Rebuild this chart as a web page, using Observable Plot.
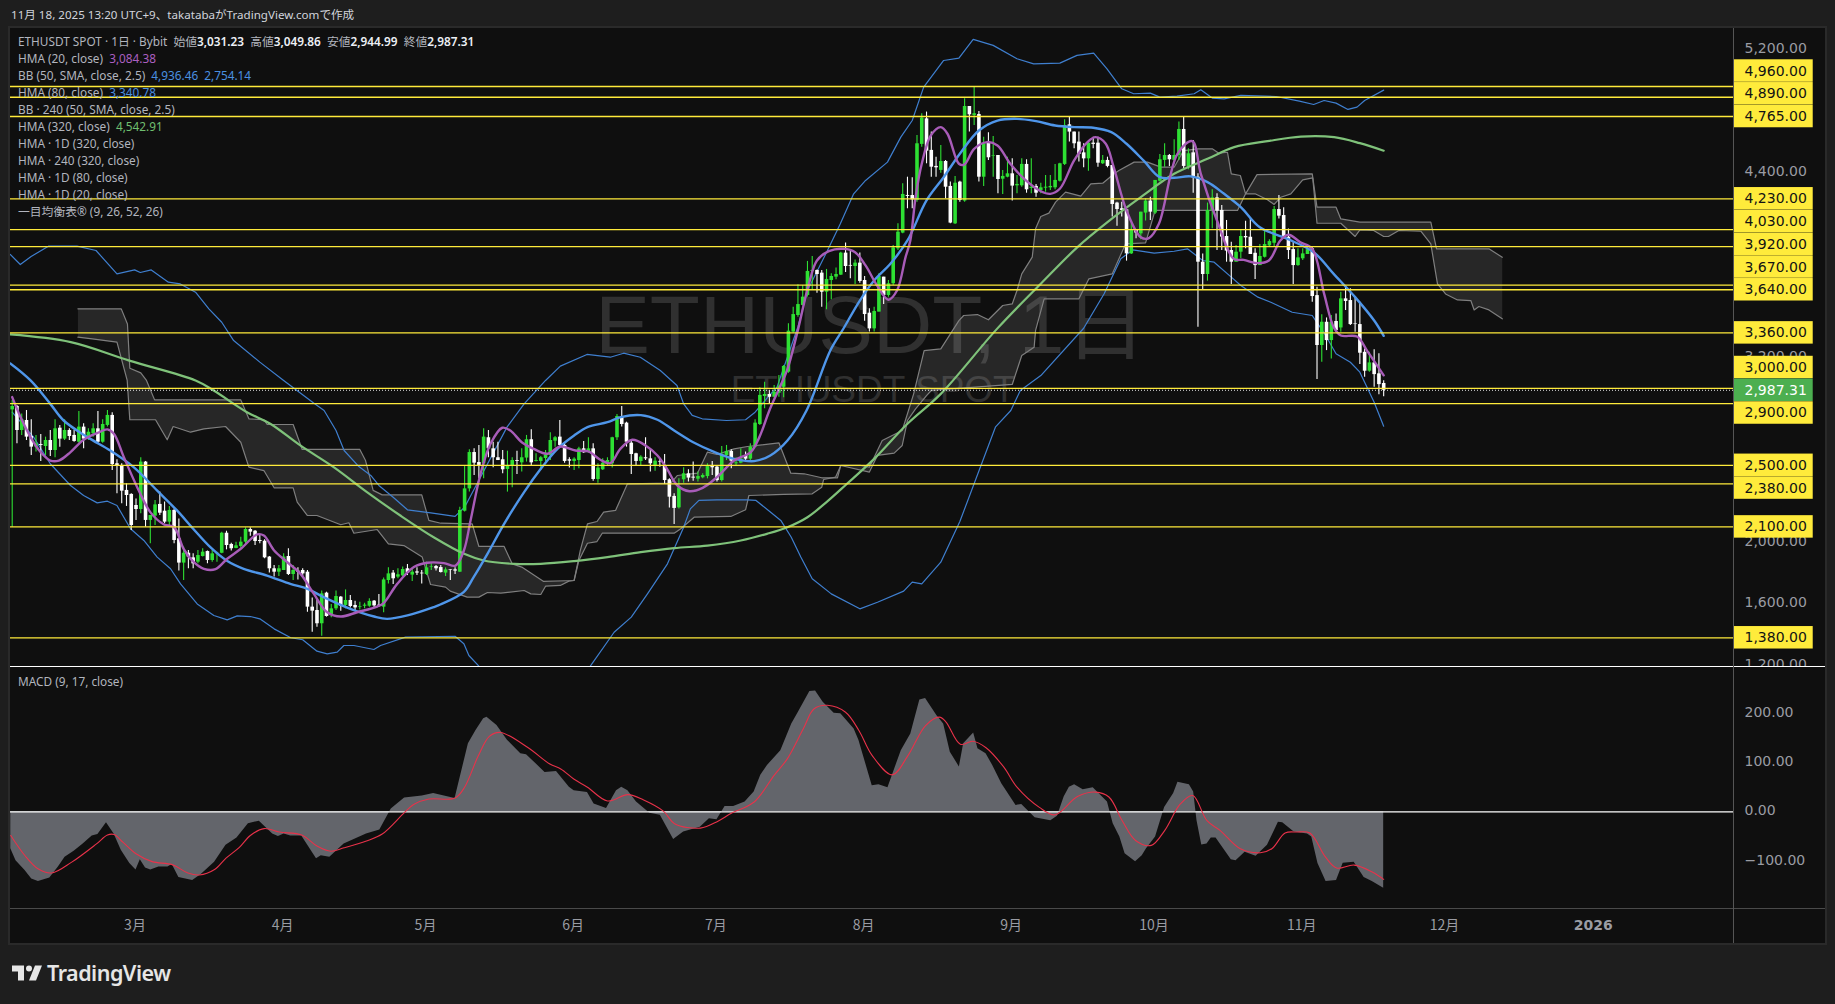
<!DOCTYPE html>
<html lang="ja">
<head>
<meta charset="utf-8">
<script src="https://cdn.jsdelivr.net/npm/d3@7"></script>
<script src="https://cdn.jsdelivr.net/npm/@observablehq/plot@0.6"></script>
<style>
html,body{margin:0;padding:0;background:#1e1e1e;}
#root{position:relative;width:1835px;height:1004px;overflow:hidden;background:#1e1e1e;font-family:"Noto Sans","Noto Sans CJK JP",sans-serif;}
.abs{position:absolute;}
#legend{position:absolute;left:18px;top:33px;font:11.8px/17px "Noto Sans","Noto Sans CJK JP",sans-serif;color:#b2b5be;white-space:pre;}
#legend b{color:#eceff5;font-weight:600;}
#legend div{height:17px;}
</style>
</head>
<body>
<div id="root"></div>
<script>
// ---------- data ----------
const firstDay = Date.UTC(2025, 1, 3);
// daily candles, one row per day from 3 Feb 2025: open, high, low, close
const candles = [
[2860,2921,2098,2882],[2882,2889,2640,2726],[2726,2834,2694,2796],[2791,2856,2661,2683],[2687,2796,2564,2618],
[2618,2694,2586,2640],[2635,2700,2525,2629],[2622,2683,2564,2661],[2661,2726,2557,2596],[2596,2796,2549,2737],
[2741,2759,2618,2670],[2670,2796,2661,2726],[2726,2737,2661,2687],[2694,2726,2650,2655],[2650,2850,2644,2748],
[2748,2770,2607,2670],[2683,2737,2661,2715],[2705,2770,2683,2737],[2737,2850,2640,2650],[2650,2796,2644,2765],
[2759,2856,2748,2824],[2824,2841,2466,2505],[2510,2536,2315,2499],[2499,2510,2250,2332],[2337,2380,2233,2304],
[2311,2315,2077,2109],[2239,2282,2142,2213],[2213,2549,2185,2521],[2521,2525,2098,2142],[2142,2174,1990,2174],
[2170,2272,2109,2243],[2246,2326,2174,2189],[2202,2261,2120,2131],[2131,2233,2109,2207],[2207,2217,1990,2012],
[2023,2152,1813,1865],[1865,1968,1752,1929],[1929,1947,1828,1904],[1899,1925,1828,1860],[1871,1947,1860,1914],
[1908,1958,1904,1936],[1940,1943,1860,1882],[1882,1947,1871,1925],[1925,1936,1871,1929],[1929,2066,1925,2059],
[2059,2072,1951,1979],[1986,1994,1943,1958],[1960,2001,1958,1977],[1973,2033,1962,2001],[2001,2094,1990,2083],
[2083,2094,2040,2066],[2072,2077,1979,2005],[2012,2044,1990,2005],[2007,2016,1893,1899],[1904,1908,1800,1828],
[1828,1849,1774,1806],[1806,1849,1778,1828],[1817,1925,1817,1904],[1908,1958,1784,1791],[1791,1849,1752,1817],
[1813,1834,1756,1806],[1817,1828,1774,1795],[1806,1817,1546,1579],[1579,1639,1416,1553],[1557,1626,1449,1471],
[1471,1683,1390,1665],[1670,1676,1514,1518],[1531,1596,1510,1568],[1568,1683,1557,1648],[1644,1648,1553,1585],
[1590,1691,1568,1622],[1622,1655,1574,1583],[1590,1618,1553,1574],[1579,1611,1561,1583],[1585,1605,1568,1592],
[1585,1633,1579,1616],[1618,1622,1574,1587],[1592,1661,1579,1585],[1579,1769,1542,1756],[1752,1834,1730,1795],
[1800,1817,1726,1763],[1774,1828,1763,1789],[1782,1839,1778,1823],[1828,1856,1784,1800],[1787,1828,1745,1806],
[1808,1834,1784,1800],[1800,1817,1730,1795],[1791,1871,1784,1834],[1839,1860,1817,1843],[1843,1849,1813,1828],
[1836,1849,1800,1804],[1800,1834,1778,1821],[1821,1821,1752,1817],[1821,1834,1791,1813],[1806,2228,1804,2207],
[2202,2492,2196,2347],[2347,2601,2326,2583],[2583,2607,2434,2514],[2518,2629,2412,2499],[2510,2737,2412,2683],
[2679,2726,2549,2607],[2607,2650,2484,2549],[2549,2650,2531,2531],[2536,2596,2445,2471],[2473,2592,2326,2495],
[2495,2549,2354,2531],[2531,2592,2440,2525],[2516,2607,2456,2549],[2547,2694,2521,2666],[2666,2731,2499,2516],
[2525,2575,2521,2531],[2525,2557,2466,2549],[2544,2596,2521,2568],[2564,2711,2531,2661],[2657,2687,2618,2679],
[2683,2791,2618,2629],[2629,2644,2514,2525],[2536,2549,2482,2527],[2525,2549,2466,2540],[2531,2618,2477,2607],
[2607,2655,2579,2581],[2586,2679,2579,2607],[2607,2640,2397,2408],[2408,2510,2384,2482],[2471,2542,2466,2514],
[2514,2549,2499,2531],[2510,2683,2482,2679],[2679,2830,2661,2817],[2817,2882,2748,2765],[2774,2780,2618,2650],
[2644,2661,2440,2570],[2575,2579,2499,2525],[2525,2562,2499,2553],[2549,2679,2531,2542],[2542,2601,2456,2510],
[2499,2549,2462,2527],[2525,2542,2488,2521],[2499,2570,2376,2401],[2406,2412,2222,2293],[2298,2315,2116,2220],
[2224,2412,2217,2354],[2406,2484,2384,2445],[2445,2471,2391,2417],[2423,2521,2397,2417],[2410,2456,2391,2427],
[2419,2445,2412,2434],[2427,2510,2412,2492],[2492,2525,2434,2484],[2488,2499,2391,2401],[2401,2622,2391,2570],
[2564,2629,2531,2590],[2590,2601,2477,2527],[2510,2549,2499,2516],[2514,2607,2510,2542],[2564,2586,2521,2540],
[2540,2640,2531,2618],[2618,2796,2618,2774],[2765,3003,2759,2954],[2947,3040,2867,2960],[2960,2986,2899,2942],
[2942,3018,2938,2975],[2968,3083,2942,3014],[3007,3148,2938,3142],[3105,3419,3098,3371],[3365,3527,3358,3479],
[3473,3672,3462,3544],[3538,3668,3534,3592],[3603,3824,3592,3759],[3759,3856,3635,3765],[3765,3769,3618,3739],
[3748,3765,3527,3624],[3624,3772,3510,3707],[3700,3744,3575,3726],[3722,3782,3705,3739],[3735,3884,3733,3878],
[3878,3943,3752,3791],[3798,3891,3711,3793],[3791,3834,3674,3813],[3813,3878,3683,3694],[3700,3726,3436,3479],
[3488,3516,3365,3386],[3386,3527,3365,3499],[3495,3744,3495,3726],[3722,3722,3544,3603],[3603,3700,3592,3679],
[3679,3928,3668,3912],[3906,4068,3895,4014],[4008,4328,4003,4259],[4252,4371,4166,4246],[4252,4367,4166,4224],
[4220,4642,4209,4588],[4584,4783,4566,4755],[4750,4794,4458,4540],[4545,4664,4371,4436],[4441,4501,4371,4432],
[4415,4577,4397,4473],[4473,4480,4231,4306],[4311,4339,4068,4073],[4068,4376,4064,4332],[4339,4345,4209,4220],
[4216,4880,4209,4830],[4830,4830,4664,4776],[4772,4956,4707,4783],[4778,4798,4339,4371],[4371,4631,4311,4588],
[4592,4659,4480,4497],[4508,4636,4371,4512],[4512,4512,4263,4356],[4358,4415,4259,4376],[4371,4501,4367,4393],
[4393,4490,4216,4313],[4315,4382,4263,4324],[4315,4490,4306,4454],[4454,4484,4267,4289],[4298,4490,4263,4306],
[4311,4324,4241,4267],[4285,4332,4263,4302],[4300,4382,4274,4306],[4302,4382,4285,4311],[4302,4454,4289,4350],
[4345,4462,4339,4458],[4454,4744,4447,4707],[4711,4761,4599,4664],[4664,4664,4555,4588],[4599,4664,4469,4519],
[4529,4588,4432,4490],[4490,4599,4410,4592],[4592,4631,4555,4584],[4592,4631,4436,4462],[4458,4512,4454,4480],
[4480,4501,4432,4441],[4447,4447,4112,4194],[4203,4209,4053,4161],[4166,4209,4112,4155],[4159,4159,3826,3873],
[3873,4068,3869,4025],[4025,4025,3971,4008],[4003,4144,3964,4144],[4138,4231,4086,4216],[4216,4241,4090,4144],
[4138,4350,4129,4350],[4345,4519,4339,4484],[4480,4588,4436,4512],[4512,4519,4441,4484],[4480,4614,4458,4512],
[4512,4729,4480,4681],[4681,4761,4426,4441],[4436,4555,4419,4523],[4529,4610,4267,4367],[4371,4393,3397,3819],
[3819,3873,3640,3739],[3739,4203,3696,4155],[4155,4289,4036,4237],[4237,4263,3895,4151],[4155,4187,3895,3982],
[3986,4090,3819,3891],[3895,3949,3674,3819],[3819,3927,3819,3884],[3884,4025,3841,3986],[3986,4085,3906,3977],
[3981,4107,3869,3869],[3877,3906,3706,3797],[3797,3934,3797,3856],[3851,4025,3847,3934],[3925,3964,3921,3953],
[3942,4181,3921,4161],[4161,4252,4100,4118],[4122,4172,3977,3981],[3981,4035,3836,3895],[3901,3949,3674,3797],
[3797,3906,3793,3847],[3841,3906,3830,3873],[3869,3916,3869,3901],[3906,3916,3559,3596],[3602,3657,3057,3278],
[3278,3477,3169,3429],[3429,3457,3245,3310],[3310,3473,3191,3429],[3434,3483,3364,3375],[3392,3624,3364,3581],
[3581,3663,3505,3564],[3570,3646,3408,3414],[3418,3592,3364,3414],[3414,3559,3154,3228],[3234,3256,3072,3111],
[3111,3234,3105,3165],[3165,3250,3007,3089],[3094,3224,2959,3024],[3031.23,3049.86,2944.99,2987.31]
];
// indicator samples: [days since 3 Feb, value]
const hma20 = [[0,2943],[1.75,2813],[3.85,2683],[5.95,2586],[8,2531],[9.8,2531],[12.25,2586],[15,2666],[17.85,2709],[20,2733],[21.35,2705],[23.45,2553],[26.25,2358],[29,2196],[31.85,2116],[34,2098],[36,1958],[38.15,1871],[40.25,1828],[42.7,1826],[45.15,1893],[48,1958],[51.45,2051],[52.85,2044],[55,1947],[57.75,1871],[60.55,1795],[63.35,1665],[66.15,1546],[69,1518],[72.45,1546],[76.65,1583],[78,1605],[80.85,1730],[84.35,1839],[87.15,1867],[90.65,1865],[93.1,1849],[94.85,1947],[96.25,2142],[98.35,2445],[100.45,2640],[102.9,2744],[104.6,2726],[107,2650],[109.5,2607],[112.4,2575],[115.1,2622],[118.3,2596],[121,2590],[123.5,2536],[125.6,2514],[127.7,2607],[130.2,2666],[133,2629],[135.5,2564],[137.5,2477],[139.7,2369],[142.2,2332],[145,2354],[148,2423],[151.6,2531],[155.1,2586],[156.9,2683],[159,2856],[160.7,2975],[162.7,3116],[164.8,3354],[167.3,3679],[169,3830],[171.5,3891],[174.6,3906],[177,3884],[179.2,3798],[181.6,3668],[184,3575],[185.8,3635],[187.6,3852],[188.6,3960],[189.7,4241],[191,4458],[192.9,4642],[195,4696],[196.4,4653],[198.8,4458],[199.9,4452],[202,4555],[204.7,4599],[206.9,4577],[209.6,4458],[212.5,4360],[216,4280],[218,4263],[220,4296],[223,4480],[225.8,4599],[227.5,4631],[229.6,4590],[231.3,4436],[234,4155],[237,3981],[238.7,3975],[240.8,4068],[244.7,4523],[247.8,4605],[249.6,4393],[253,4090],[256.5,3841],[258.6,3834],[261.4,3813],[263.9,3830],[266.3,3960],[268,3997],[270.5,3949],[273,3906],[275.5,3613],[277.5,3397],[279,3343],[282.4,3336],[284.5,3245],[288,3084.38]];
const hma80 = [[-0.4,3161],[3.85,3051],[8,2899],[10.8,2791],[15.8,2683],[20.6,2596],[25.5,2488],[30.4,2337],[34.6,2207],[38,2088],[41.6,1968],[45,1882],[48.6,1828],[53.5,1784],[58.4,1730],[62,1698],[65.4,1644],[71,1568],[76,1518],[78.7,1503],[83,1525],[88.5,1579],[89.9,1596],[94.8,1676],[96.9,1774],[99.8,1925],[103.3,2120],[107.5,2326],[111,2477],[114.5,2607],[118,2694],[120.8,2748],[125,2780],[127.8,2813],[132,2826],[135.5,2796],[139,2726],[143,2650],[147.5,2586],[151.6,2542],[155.8,2527],[159.2,2564],[162.8,2661],[166.8,2856],[171.8,3246],[174.6,3390],[178,3570],[181,3700],[184.5,3812],[188,3960],[192,4220],[195.6,4371],[199,4523],[203,4674],[206.9,4739],[211,4750],[215,4735],[219,4707],[223,4696],[227,4692],[230.8,4664],[234,4588],[237.7,4475],[241,4371],[244,4367],[247.5,4376],[251,4339],[254.5,4263],[258,4177],[262,4046],[267.8,3970],[273.3,3884],[277.5,3743],[282,3592],[286,3440],[288,3340.78]];
const hma320 = [[-0.4,3350],[12.3,3300],[24.6,3180],[38.5,3051],[42.3,2986],[49.3,2845],[54.2,2770],[60.5,2629],[67.5,2488],[74.5,2326],[81.5,2174],[88.5,2033],[94.9,1925],[99,1882],[105.4,1860],[111,1860],[118,1878],[125,1904],[132,1936],[139,1962],[146,1979],[153,2012],[158.5,2055],[162.8,2098],[167,2163],[171,2261],[175.3,2380],[181,2542],[188,2770],[195,2964],[206.8,3386],[216,3679],[223.7,3917],[230,4079],[237,4241],[244,4393],[251,4490],[256.6,4566],[263.6,4605],[270.6,4635],[277.6,4631],[283,4592],[288,4542.91]];
const bbUpper = [[-0.4,3869],[1.7,3804],[3.97,3856],[7.6,3923],[13.6,3923],[17.6,3895],[22,3743],[25.7,3769],[26.9,3752],[29.2,3769],[32.8,3689],[35.3,3678],[38.5,3624],[41.3,3516],[44,3429],[46.5,3310],[52,3170],[57,3051],[59.8,2986],[63.3,2904],[65.5,2856],[68,2726],[69.7,2596],[72.8,2492],[75.3,2434],[77,2369],[80,2293],[83,2211],[87.9,2191],[93,2168],[95,2228],[103.9,2748],[107.5,2899],[112,3051],[115.1,3144],[120.7,3220],[125.6,3202],[128.4,3228],[131.9,3202],[136.1,3116],[139.6,3018],[141,2899],[142.8,2824],[144.9,2802],[150,2791],[154,2796],[156,2845],[159,2954],[160.6,3007],[165,3400],[167,3635],[171.2,3895],[173.9,4068],[176.7,4263],[179.2,4350],[183.8,4469],[186.6,4631],[189,4739],[191.4,4956],[195.6,5129],[198.8,5144],[201.8,5266],[206,5227],[211,5140],[214.5,5107],[220,5112],[223.6,5162],[227.1,5177],[229.9,5075],[233,4945],[235.5,4913],[239,4917],[241,4891],[244.6,4897],[248.2,4913],[249.6,4939],[252,4885],[254.5,4880],[258,4902],[265.4,4895],[270.3,4865],[273.3,4843],[275.5,4869],[278,4852],[280.5,4811],[282.4,4826],[284,4869],[288,4936.46]];
const bbLower = [[0,2845],[4.5,2683],[8,2510],[12.25,2369],[15,2304],[17.85,2256],[20,2267],[22,2239],[24.85,2088],[27.65,2012],[30.45,1904],[33.25,1828],[35.35,1730],[38.85,1600],[42.35,1525],[45.15,1496],[47.25,1522],[50,1518],[52,1503],[55,1438],[58.5,1380],[61,1367],[64,1293],[66.15,1276],[68.25,1287],[69.65,1330],[71.75,1330],[75.95,1304],[77.35,1330],[82.6,1384],[93,1390],[94.85,1341],[95.9,1265],[98,1196],[99,null],[120,null],[121.4,1196],[126.4,1416],[130,1514],[133.4,1665],[137.6,1860],[141,2098],[142.4,2217],[144.2,2272],[148,2276],[154.4,2276],[156.2,2272],[161.4,2142],[163.6,2033],[165.6,1904],[168,1763],[172,1665],[178,1568],[181.7,1611],[187.2,1683],[189,1741],[191,1730],[195,1871],[199,2135],[206.5,2750],[209.7,2856],[211.7,2986],[216,3083],[225,3390],[229.3,3614],[232.8,3841],[235.3,3899],[239.8,3878],[244,3890],[246.8,3906],[250,3830],[252.4,3819],[256,3722],[258,3668],[261.6,3592],[264.3,3559],[268.8,3494],[273,3473],[275.6,3354],[278,3224],[281,3169],[283,3105],[286,2910],[288,2754.14]];
const spanUpper = [[13.8,3516],[22.9,3516],[24.2,3418],[24.7,3130],[27,3100],[28.2,3051],[29.9,2925],[48,2925],[49.7,2802],[52.85,2796],[53.55,2765],[59,2765],[60.9,2603],[73,2603],[74.2,2531],[75.8,2337],[77.7,2308],[86,2308],[87.5,2142],[90,2124],[96.6,2120],[98,1973],[103.3,1973],[105,1860],[107,1839],[111.6,1746],[118,1752],[119.3,1947],[120.8,2120],[122.8,2135],[124.2,2196],[126.7,2207],[129.2,2380],[138.3,2384],[139.7,2434],[143.9,2449],[146,2586],[148,2570],[151.6,2607],[154.4,2622],[161,2646],[163.5,2449],[166.3,2445],[170,2419],[173.3,2419],[174,2499],[178.2,2499],[180,2488],[182.7,2661],[186.9,2726],[189.3,2964],[191.5,3245],[195,3256],[198.8,3440],[199.8,3473],[202.7,3479],[205,3445],[208,3538],[210,3548],[211,3635],[212,3743],[214.2,3852],[214.9,4036],[216,4116],[217.7,4138],[219.1,4209],[221.2,4274],[224.4,4248],[226.5,4328],[229,4332],[231.4,4393],[232.4,4415],[235.6,4469],[238.4,4469],[241.2,4436],[244,4436],[246,4544],[249,4555],[252,4555],[253.4,4527],[255.2,4533],[256,4393],[257.9,4382],[259,4263],[261.4,4388],[273,4393],[274,4176],[278,4176],[279,4100],[283,4079],[297.9,4079],[299.1,3906],[310.1,3906],[312.9,3851]];
const spanLower = [[13.8,3332],[16.8,3321],[22,3300],[24.15,3051],[24.7,2796],[30.1,2796],[32.55,2666],[33.8,2752],[37.45,2715],[40.25,2737],[44.8,2752],[48,2650],[49.7,2488],[52.85,2466],[55,2354],[59,2354],[59.85,2261],[62,2174],[64,2174],[69,2114],[70.7,2127],[71.75,2059],[76.65,2083],[79,1990],[82.25,1979],[86.1,1904],[87.85,1726],[91,1709],[92,1683],[95.55,1644],[98,1644],[99.8,1674],[102.6,1670],[107.5,1687],[108.9,1665],[111,1661],[112,1715],[115.1,1720],[116.9,1748],[118,1752],[119,1882],[120.8,1994],[122.8,2005],[123.9,2059],[139,2059],[140.4,2088],[143.2,2163],[150.9,2168],[154,2211],[154.7,2304],[162,2311],[168,2315],[170,2358],[170.4,2408],[172.9,2423],[174,2499],[180,2456],[181.7,2564],[185.2,2579],[186.9,2629],[188,2791],[189.7,2867],[192,2953],[193,2986],[210,3025],[212,3213],[214.6,3267],[214.9,3376],[216.7,3581],[224,3581],[226.1,3711],[231,3743],[233.8,3938],[238,3944],[240,4155],[257.3,4155],[259,4263],[261,4263],[263.6,4224],[265,4194],[266.4,4241],[268.5,4263],[271,4354],[273.1,4367],[274,4072],[279,4072],[282,3986],[283,4029],[285.9,4025],[288,3986],[289,3986],[291.2,4025],[295.8,4020],[297.9,3938],[299.3,3678],[301,3613],[303.5,3574],[306.3,3570],[307,3509],[308,3531],[310.1,3509],[312.9,3451]];
const macd = [[-0.3,-75],[0.8,-99],[2.7,-119],[4.1,-136],[5.5,-141],[7.9,-134],[9.7,-112],[11.1,-92],[13,-80],[14.9,-65],[16.8,-49],[18,-46],[19.8,-22],[21.4,-45],[22.9,-78],[24.7,-105],[26,-118],[26.9,-97],[28,-114],[29.1,-118],[30.8,-112],[32.7,-112],[33.6,-107],[35,-133],[37.9,-139],[39.7,-127],[42.5,-102],[44.9,-68],[47.2,-53],[49.6,-24],[51.9,-19],[54.7,-45],[55.9,-50],[57.1,-45],[58.5,-49],[60.8,-49],[63.9,-95],[64.9,-89],[66.7,-92],[69.7,-65],[74.4,-45],[77.2,-37],[79.6,6],[82.4,28],[86.1,32],[88.5,37],[93,27],[95.8,138],[97.4,165],[99,189],[99.7,192],[101.8,175],[104,145],[106.8,118],[108,116],[111.9,80],[114.3,82],[117,50],[118,43],[120.8,39],[122.2,16],[124.8,7],[126.9,43],[128,50],[129.3,43],[131.1,20],[133.9,-3],[136.1,-7],[138.9,-56],[141,-41],[144.5,-31],[146.4,-14],[148,-16],[149.7,11],[151.5,11],[153.9,20],[155.8,40],[157.2,74],[158.6,94],[161.4,124],[163.7,178],[165.1,202],[167.5,244],[168.7,245],[170.3,222],[172.6,200],[174,199],[176.8,168],[177.8,145],[180.6,53],[182,55],[183.9,49],[186.7,124],[188.7,158],[190.6,227],[191.8,230],[194.2,195],[195.6,178],[197,121],[198.9,91],[199.8,138],[201.9,160],[202.8,128],[204.5,118],[205.9,94],[207.8,57],[210.8,13],[212,15],[214.8,-12],[218.1,-18],[219.5,-9],[220.9,30],[222,50],[223.1,55],[224.9,45],[227,49],[230,20],[231.2,-24],[232.6,-51],[233.7,-85],[235.9,-101],[237.3,-89],[238.2,-75],[240.1,-51],[242,9],[243.9,37],[244.8,60],[247.2,55],[248.1,40],[248.8,-18],[249.8,-67],[250.9,-65],[251.8,-53],[252.8,-53],[256,-97],[257,-99],[258.9,-82],[261.2,-90],[263.6,-68],[265.9,-21],[266.8,-22],[269.2,-41],[272,-45],[272.9,-51],[274.2,-105],[275.9,-141],[278.1,-139],[279.5,-104],[281.8,-102],[283.9,-133],[285.6,-141],[288,-155]];
const macdSignal = [[-0.3,-48],[2.7,-89],[5.5,-116],[8.3,-124],[12.5,-102],[17.7,-65],[20,-47],[21.4,-46],[23.3,-62],[26,-85],[29.4,-101],[33.6,-107],[36.9,-124],[39.3,-128],[42.5,-117],[44.9,-94],[47.7,-72],[50,-48],[52.9,-34],[56.1,-41],[60.8,-47],[64.1,-70],[66.9,-80],[69.7,-73],[74.4,-59],[77.7,-45],[82.4,-1],[84.3,15],[87.5,26],[93,28],[95,50],[97.9,114],[100.2,153],[102.5,161],[108.2,131],[112.9,97],[115.2,87],[118,66],[120.8,50],[125,22],[129.3,35],[132.6,24],[136.8,1],[139.1,-24],[144.5,-33],[148.2,-19],[151,-3],[155.8,20],[160,74],[162.8,108],[166.1,168],[168.4,209],[171.2,216],[175,202],[177.8,165],[180.6,114],[184.8,75],[188.1,114],[191.8,175],[194.7,192],[196.1,182],[199.1,137],[201.7,143],[204.5,130],[208.2,91],[211,50],[215.7,9],[219,-6],[223.7,31],[227.5,40],[230.3,30],[233.1,-18],[235.9,-58],[239.2,-68],[242,-38],[245.3,16],[247.9,33],[250.9,-18],[253.7,-38],[257.9,-75],[262.1,-83],[264.5,-75],[267.3,-43],[269.7,-41],[272.5,-43],[275.8,-92],[278.1,-114],[281.8,-108],[285.6,-122],[288,-137]];
// horizontal levels, stacked into their tags on the price axis; each stack hangs off its anchor price
const tagStacks = [
  {levels:[4960,4890,4765], anchor:4765},
  {levels:[4230,4030,3920,3670,3640], anchor:3640},
  {levels:[3360], anchor:3360},
  {levels:[3000,2987.31,2900], anchor:2987.31},
  {levels:[2500,2380], anchor:2500},
  {levels:[2100], anchor:2100},
  {levels:[1380], anchor:1380}
];
const lastPrice = 2987.31;
const priceTicks = [5200,4400,3200,2000,1600,1200];
const macdTicks = [200,100,0,-100];
const monthLabels = ["3月","4月","5月","6月","7月","8月","9月","10月","11月","12月"];
const monthStarts = [[2025,2],[2025,3],[2025,4],[2025,5],[2025,6],[2025,7],[2025,8],[2025,9],[2025,10],[2025,11]];
const legendLines = [
  [["ETHUSDT SPOT · 1日 · Bybit  始値"],["3,031.23","b"],["  高値"],["3,049.86","b"],["  安値"],["2,944.99","b"],["  終値"],["2,987.31","b"]],
  [["HMA (20, close)  "],["3,084.38","#ab5fc0"]],
  [["BB (50, SMA, close, 2.5)  "],["4,936.46  2,754.14","#4a8fe0"]],
  [["HMA (80, close)  "],["3,340.78","#4a8fe0"]],
  [["BB · 240 (50, SMA, close, 2.5)"]],
  [["HMA (320, close)  "],["4,542.91","#6fbf6f"]],
  [["HMA · 1D (320, close)"]],
  [["HMA · 240 (320, close)"]],
  [["HMA · 1D (80, close)"]],
  [["HMA · 1D (20, close)"]],
  [["一目均衡表® (9, 26, 52, 26)"]]
];

// ---------- helpers ----------
const day = d => new Date(firstDay + d * 864e5);
const xDomain = [day(-0.357), day(361.46)];
const rows = a => a.map(([d, v]) => ({date: day(d), value: v}));
const candleRows = candles.map(([open, high, low, close], i) => ({date: day(i), open, high, low, close, color: close >= open ? "#2ee033" : "#ffffff"}));
const FONT = '"DejaVu Sans",sans-serif';
const AXIS = "#9a9ca3";
const PANE = "#0f0f0f";
const root = document.getElementById("root");
function box(css){const e=document.createElement("div");e.className="abs";e.style.cssText=css;root.appendChild(e);return e;}

// frame
box("left:8px;top:26px;width:1819px;height:919px;background:#2a2a2a;");
box("left:10px;top:28px;width:1815px;height:915px;background:"+PANE+";");

// ---------- price pane ----------
const tagStep = 147.7, tagHalf = 73;
const tagRows = tagStacks.flatMap(({levels, anchor}) => {
  const k = levels.indexOf(anchor);
  return levels.map((level, j) => ({level, center: anchor + (k - j) * tagStep, last: level === lastPrice}));
});
const cloudOutline = rows(spanUpper).concat(rows(spanLower).reverse());
const tagX1 = day(361.6), tagX2 = day(378.2);
const smooth = "catmull-rom";

const price = Plot.plot({
  width: 1815, height: 638, marginLeft: 0, marginRight: 92, marginTop: 0, marginBottom: 0,
  style: {background: "transparent", fontFamily: FONT, fontSize: "14px", color: AXIS, overflow: "hidden"},
  x: {type: "utc", domain: xDomain, axis: null},
  y: {domain: [1193.5, 5336.6], axis: null},
  marks: [
    Plot.text(["ETHUSDT, 1日"], {x: () => day(180.3), y: () => 3400, text: d => d, fontSize: 82, fill: "#303030", fontFamily: '"Liberation Sans","Noto Sans CJK JP",sans-serif', textAnchor: "middle"}),
    Plot.text(["ETHUSDT SPOT"], {x: () => day(180.8), y: () => 2990, text: d => d, fontSize: 37, fill: "#303030", fontFamily: '"Liberation Sans",sans-serif', textAnchor: "middle"}),
    Plot.line(cloudOutline, {x: "date", y: "value", fill: "#ffffff", fillOpacity: 0.1, stroke: "none"}),
    Plot.line(rows(spanUpper), {x: "date", y: "value", stroke: "#7f7f7f", strokeWidth: 1.2}),
    Plot.line(rows(spanLower), {x: "date", y: "value", stroke: "#7f7f7f", strokeWidth: 1.2}),
    Plot.line(rows(bbUpper), {x: "date", y: "value", stroke: "#3f7fcf", strokeWidth: 1.2, clip: true}),
    Plot.line(rows(bbLower), {x: "date", y: "value", stroke: "#3f7fcf", strokeWidth: 1.2, clip: true}),
    Plot.ruleX(candleRows, {x: "date", y1: "low", y2: "high", stroke: "color", strokeWidth: 1.1}),
    Plot.ruleX(candleRows, {x: "date", y1: "open", y2: "close", stroke: "color", strokeWidth: 3.6}),
    Plot.line(rows(hma320), {x: "date", y: "value", stroke: "#7fc27a", strokeWidth: 2.2, curve: smooth}),
    Plot.line(rows(hma80), {x: "date", y: "value", stroke: "#4f96ea", strokeWidth: 2.4, curve: smooth}),
    Plot.line(rows(hma20), {x: "date", y: "value", stroke: "#a85cb8", strokeWidth: 2.4, curve: smooth}),
    Plot.ruleY(tagRows.filter(d => !d.last), {y: "level", stroke: "#ffeb3b", strokeWidth: 1.3}),
    Plot.ruleY([lastPrice], {stroke: "#e8e8e8", strokeWidth: 1, strokeDasharray: "1,2"}),
    Plot.axisY(priceTicks, {anchor: "right", tickSize: 0, tickPadding: 11, dy: -1, tickFormat: d3.format(",.2f"), fill: AXIS, fontSize: 14, label: null, fontFamily: FONT}),
    Plot.rect(tagRows, {x1: () => tagX1, x2: () => tagX2, y1: d => d.center - tagHalf, y2: d => d.center + tagHalf, fill: d => d.last ? "#4caf50" : "#ffeb3b"}),
    Plot.text(tagRows, {frameAnchor: "right", dx: 11, y: "center", text: d => d3.format(",.2f")(d.level), textAnchor: "start", fontSize: 14, fontFamily: FONT, fill: d => d.last ? "#ffffff" : "#131313", fontWeight: d => d.last ? "bold" : "normal"})
  ]
});
price.style.cssText += ";position:absolute;left:10px;top:28px;";
root.appendChild(price);

// ---------- MACD pane ----------
const macdPlot = Plot.plot({
  width: 1815, height: 277, marginLeft: 0, marginRight: 92, marginTop: 0, marginBottom: 35,
  style: {background: "transparent", fontFamily: FONT, fontSize: "14px", color: AXIS},
  x: {type: "utc", domain: xDomain, axis: null},
  y: {domain: [-196, 294.7], axis: null},
  marks: [
    Plot.areaY(rows(macd), {x: "date", y: "value", fill: "#63656b"}),
    Plot.ruleY([0], {stroke: "#ffffff", strokeWidth: 1.4}),
    Plot.line(rows(macdSignal), {x: "date", y: "value", stroke: "#e8324a", strokeWidth: 1.1, curve: smooth}),
    Plot.axisY(macdTicks, {anchor: "right", tickSize: 0, tickPadding: 11, dy: -1, tickFormat: d => d3.format(".2f")(d).replace("-", "−"), fill: AXIS, fontSize: 14, label: null, fontFamily: FONT}),
    Plot.axisX(monthStarts.map(([y, m]) => new Date(Date.UTC(y, m, 1))), {anchor: "bottom", tickSize: 0, tickPadding: 12, dx: -1, tickFormat: (d, i) => monthLabels[i], fill: AXIS, fontSize: 14, label: null, fontFamily: '"Noto Sans CJK JP","Noto Sans",sans-serif'}),
    Plot.axisX([new Date(Date.UTC(2026, 0, 1))], {anchor: "bottom", tickSize: 0, tickPadding: 12, tickFormat: d => String(d.getUTCFullYear()), fill: AXIS, fontSize: 14, fontWeight: "bold", label: null, fontFamily: FONT})
  ]
});
macdPlot.style.cssText += ";position:absolute;left:10px;top:666px;";
root.appendChild(macdPlot);

// separators
box("left:10px;top:666px;width:1815px;height:1px;background:#ffffff;");
box("left:10px;top:908px;width:1815px;height:1px;background:#4a4a4a;");
box("left:1733px;top:28px;width:1px;height:915px;background:#555;");

// ---------- text around the panes ----------
const head = box("left:11px;top:6px;font:11.6px/18px 'Noto Sans','Noto Sans CJK JP',sans-serif;color:#d1d4dc;white-space:pre;");
head.textContent = "11月 18, 2025 13:20 UTC+9、takatabaがTradingView.comで作成";
const legend = document.createElement("div");
legend.id = "legend";
for (const line of legendLines) {
  const row = document.createElement("div");
  for (const [text, style] of line) {
    const s = document.createElement(style === "b" ? "b" : "span");
    s.textContent = text;
    if (style && style !== "b") s.style.color = style;
    row.appendChild(s);
  }
  legend.appendChild(row);
}
root.appendChild(legend);
const macdLabel = box("left:18px;top:673px;font:11.8px/17px 'Noto Sans',sans-serif;color:#b2b5be;");
macdLabel.textContent = "MACD (9, 17, close)";
const logo = box("left:12px;top:958px;display:flex;align-items:center;gap:5px;color:#e6e6e6;font:600 21.5px/30px 'Noto Sans',sans-serif;letter-spacing:-.5px;");
logo.innerHTML = '<svg width="30" height="18" viewBox="2 6 30 15" fill="#e6e6e6"><path d="M14 6H2v6h6v9h6V6Zm12 15h-7l6-15h7l-6 15Zm-7-9a3 3 0 1 0 0-6 3 3 0 0 0 0 6Z"/></svg><span>TradingView</span>';
</script>
</body>
</html>
